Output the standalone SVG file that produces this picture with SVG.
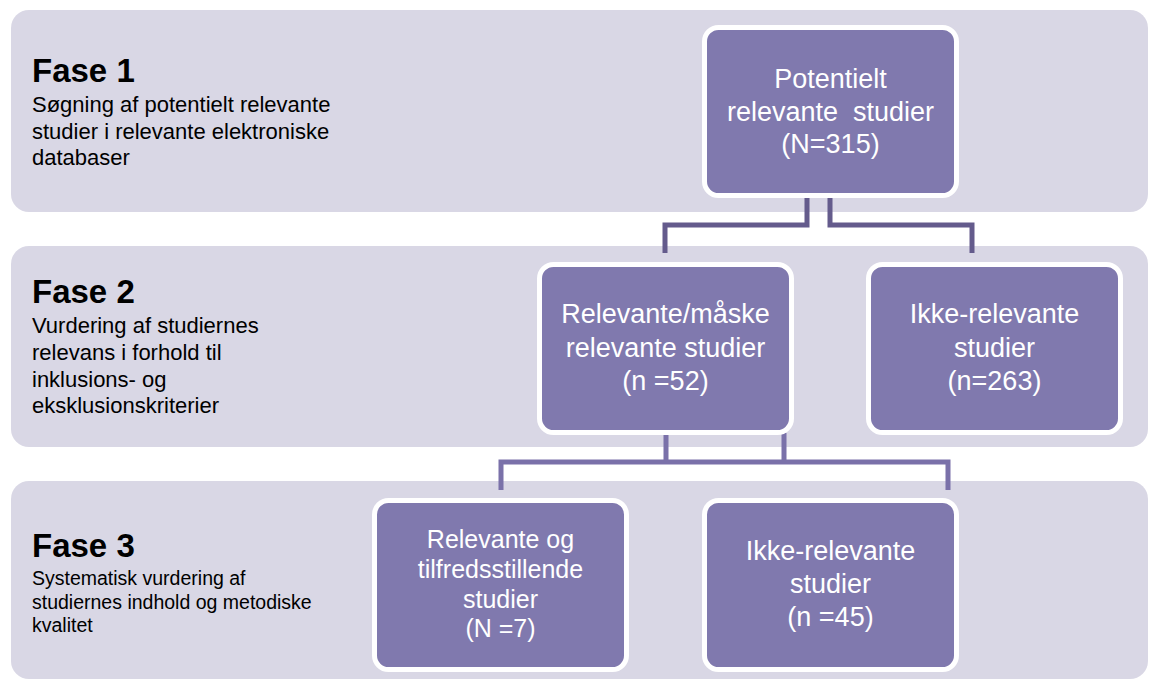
<svg xmlns="http://www.w3.org/2000/svg" width="1150" height="680" viewBox="0 0 1150 680">
<style>
.band{fill:#d9d7e5}
.node{fill:#8079ae;stroke:#ffffff;stroke-width:5}
.nt{font-family:"Liberation Sans",Arial,sans-serif;font-size:27px;fill:#ffffff;text-anchor:middle}
.nt.sm{font-size:25px}
.title{font-family:"Liberation Sans",Arial,sans-serif;font-size:33px;font-weight:bold;fill:#000}
.desc{font-family:"Liberation Sans",Arial,sans-serif;font-size:22px;fill:#000}
.desc.sm{font-size:19.5px}
.c1{fill:none;stroke:#645b8c;stroke-width:5;stroke-linejoin:miter}
.c2{fill:none;stroke:#7a71a9;stroke-width:5;stroke-linejoin:miter}
</style>
<rect fill="#ffffff" x="0" y="0" width="1150" height="680"/>
<g id="phase1">
<rect class="band" x="11" y="10" width="1137" height="202" rx="18"/>
<text class="title" x="32" y="82">Fase 1</text>
<text class="desc" x="32" y="112">Søgning af potentielt relevante</text>
<text class="desc" x="32" y="139">studier i relevante elektroniske</text>
<text class="desc" x="32" y="165">databaser</text>
</g>
<g id="phase2">
<rect class="band" x="11" y="246" width="1137" height="201" rx="18"/>
<text class="title" x="32" y="303">Fase 2</text>
<text class="desc" x="32" y="333">Vurdering af studiernes</text>
<text class="desc" x="32" y="360">relevans i forhold til</text>
<text class="desc" x="32" y="387">inklusions- og</text>
<text class="desc" x="32" y="413">eksklusionskriterier</text>
</g>
<g id="phase3">
<rect class="band" x="11" y="481" width="1137" height="198" rx="18"/>
<text class="title" x="32" y="557">Fase 3</text>
<text class="desc sm" x="32" y="585">Systematisk vurdering af</text>
<text class="desc sm" x="32" y="609">studiernes indhold og metodiske</text>
<text class="desc sm" x="32" y="632">kvalitet</text>
</g>
<g id="connectors">
<path class="c1" d="M807,196 V225 H665 V253"/>
<path class="c1" d="M830,196 V225 H972 V253"/>
<path class="c2" d="M501,490 V462 H948 V490 M666,433 V462 M784,433 V462"/>
</g>
<g id="node-potentielt">
<rect class="node" x="704.5" y="27.5" width="252" height="168" rx="14"/>
<text class="nt" x="830.5" y="88">Potentielt</text>
<text class="nt" x="830.5" y="120.5" xml:space="preserve">relevante  studier</text>
<text class="nt" x="830.5" y="153">(N=315)</text>
</g>
<g id="node-relevante-maaske">
<rect class="node" x="539.5" y="264.5" width="252" height="168" rx="14"/>
<text class="nt" x="665.5" y="323">Relevante/måske</text>
<text class="nt" x="665.5" y="357">relevante studier</text>
<text class="nt" x="665.5" y="390">(n =52)</text>
</g>
<g id="node-ikke-relevante-1">
<rect class="node" x="868.5" y="264.5" width="252" height="168" rx="14"/>
<text class="nt" x="994.5" y="323">Ikke-relevante</text>
<text class="nt" x="994.5" y="357">studier</text>
<text class="nt" x="994.5" y="390">(n=263)</text>
</g>
<g id="node-relevante-tilfreds">
<rect class="node" x="374.5" y="500.5" width="252" height="169" rx="14"/>
<text class="nt sm" x="500.5" y="548">Relevante og</text>
<text class="nt sm" x="500.5" y="578">tilfredsstillende</text>
<text class="nt sm" x="500.5" y="607.5">studier</text>
<text class="nt sm" x="500.5" y="637">(N =7)</text>
</g>
<g id="node-ikke-relevante-2">
<rect class="node" x="704.5" y="500.5" width="252" height="169" rx="14"/>
<text class="nt" x="830.5" y="560">Ikke-relevante</text>
<text class="nt" x="830.5" y="593">studier</text>
<text class="nt" x="830.5" y="626">(n =45)</text>
</g>
</svg>
